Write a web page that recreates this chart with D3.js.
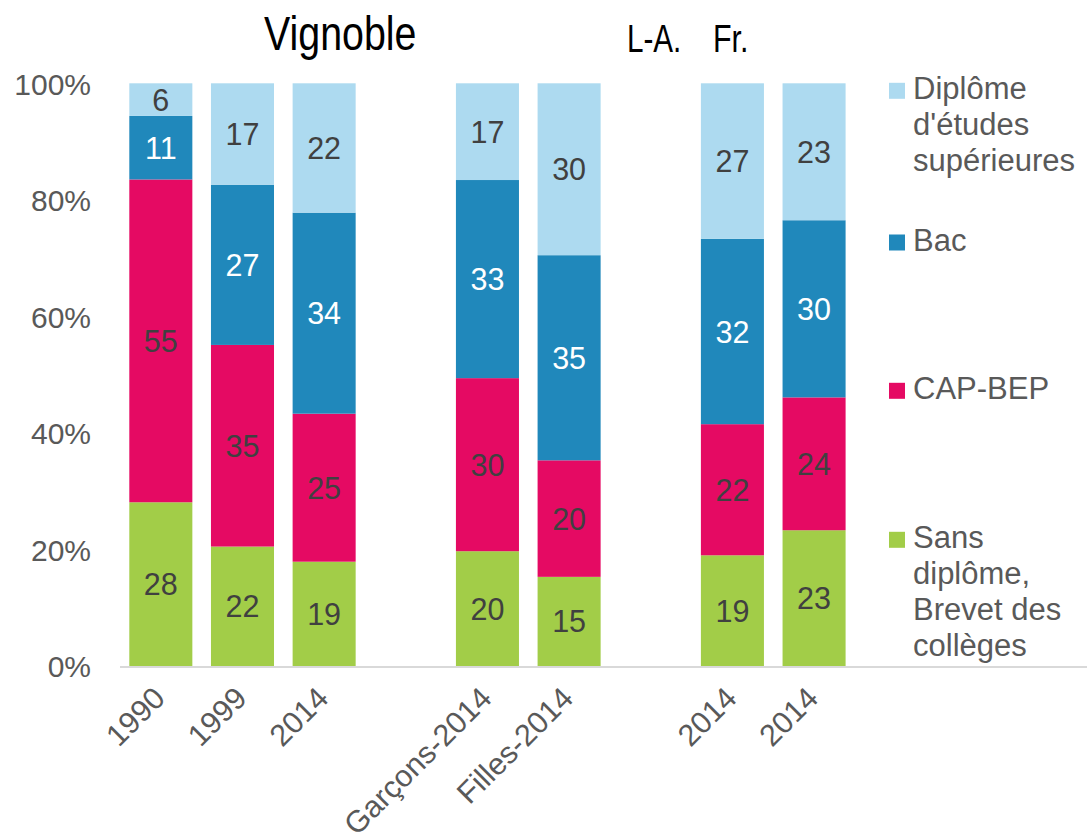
<!DOCTYPE html>
<html>
<head>
<meta charset="utf-8">
<script src="https://cdn.jsdelivr.net/npm/d3@7"></script>
<style>
  html, body { margin: 0; padding: 0; background: #fff; }
  svg { display: block; font-family: "Liberation Sans", Arial, Helvetica, sans-serif; }
</style>
</head>
<body>
<svg id="chart" width="1087" height="834"></svg>
<script>
// ---------- DATA ----------
const categoryKeys = ["1990", "1999", "2014-V", "gap1", "Garcons-2014", "Filles-2014", "gap2", "2014-LA", "2014-FR"];
const tickLabels   = ["1990", "1999", "2014", "", "Garçons-2014", "Filles-2014", "", "2014", "2014"];
const barKeys      = ["1990", "1999", "2014-V", "Garcons-2014", "Filles-2014", "2014-LA", "2014-FR"];

// segment shares (%), bottom to top
const sansDiplome = [28.1, 20.5, 17.9, 19.7, 15.3, 19.0, 23.3];
const capBep      = [55.4, 34.6, 25.4, 29.7, 20.0, 22.5, 22.8];
const bac         = [10.9, 27.5, 34.5, 34.0, 35.2, 31.8, 30.4];
const superieur   = [5.6, 17.4, 22.2, 16.6, 29.5, 26.7, 23.5];

// printed data labels
const sansDiplomeLabels = [28, 22, 19, 20, 15, 19, 23];
const capBepLabels      = [55, 35, 25, 30, 20, 22, 24];
const bacLabels         = [11, 27, 34, 33, 35, 32, 30];
const superieurLabels   = [6, 17, 22, 17, 30, 27, 23];

const seriesNames = ["sansDiplome", "capBep", "bac", "superieur"];
const yTicks = [0, 20, 40, 60, 80, 100];

const legendLines = {
  superieur:   ["Diplôme", "d'études", "supérieures"],
  bac:         ["Bac"],
  capBep:      ["CAP-BEP"],
  sansDiplome: ["Sans", "diplôme,", "Brevet des", "collèges"]
};
const legendOrder = ["superieur", "bac", "capBep", "sansDiplome"];

// ---------- STYLE ----------
const colors = {
  sansDiplome: "#A2CD48",
  capBep:      "#E50A63",
  bac:         "#2088BB",
  superieur:   "#ADDAF0"
};
const labelColors = {
  sansDiplome: "#404040",
  capBep:      "#404040",
  bac:         "#FFFFFF",
  superieur:   "#404040"
};

// ---------- BUILD ----------
const valuesBy = { sansDiplome, capBep, bac, superieur };
const labelsBy = {
  sansDiplome: sansDiplomeLabels, capBep: capBepLabels,
  bac: bacLabels, superieur: superieurLabels
};
const table = barKeys.map((k, i) => {
  const row = { key: k };
  seriesNames.forEach(s => { row[s] = valuesBy[s][i]; });
  return row;
});
const stacked = d3.stack().keys(seriesNames)(table);

const svg = d3.select("#chart");

const x = d3.scaleBand()
  .domain(categoryKeys)
  .range([120, 854.9])
  .paddingInner(0.228)
  .paddingOuter(0.114);

const y = d3.scaleLinear().domain([0, 100]).range([666, 83.3]);

// bars
const layers = svg.append("g").selectAll("g")
  .data(stacked).join("g")
  .attr("fill", d => colors[d.key]);

layers.selectAll("rect")
  .data(d => d.map((p, i) => ({ p, i, key: d.key })))
  .join("rect")
  .attr("x", d => x(barKeys[d.i]))
  .attr("width", x.bandwidth())
  .attr("y", d => y(d.p[1]))
  .attr("height", d => y(d.p[0]) - y(d.p[1]));

// data labels
layers.selectAll("text")
  .data(d => d.map((p, i) => ({ p, i, key: d.key })))
  .join("text")
  .attr("x", d => x(barKeys[d.i]) + x.bandwidth() / 2)
  .attr("y", d => (y(d.p[0]) + y(d.p[1])) / 2)
  .attr("dy", "0.36em")
  .attr("text-anchor", "middle")
  .attr("font-size", 30.5)
  .attr("fill", d => labelColors[d.key])
  .text(d => labelsBy[d.key][d.i]);

// y axis (labels only)
const yAxis = d3.axisLeft(y).tickValues(yTicks).tickFormat(d => d + "%").tickSize(0).tickPadding(0);
const gy = svg.append("g").attr("transform", "translate(91,0)").call(yAxis);
gy.select(".domain").remove();
gy.selectAll("text")
  .attr("font-size", 30)
  .attr("font-family", "Liberation Sans, Arial, sans-serif")
  .attr("fill", "#595959")
  .attr("dy", "0.36em");

// x axis
const xAxis = d3.axisBottom(x).tickSize(0).tickFormat((d, i) => tickLabels[i]);
const gx = svg.append("g").attr("transform", "translate(0,666)").call(xAxis);
gx.select(".domain").remove();
gx.selectAll("text")
  .attr("font-size", 30.5)
  .attr("font-family", "Liberation Sans, Arial, sans-serif")
  .attr("fill", "#595959")
  .attr("text-anchor", "end")
  .attr("dy", null)
  .attr("y", 0)
  .attr("transform", "translate(6,34) rotate(-45)");

// axis baseline
svg.append("line")
  .attr("x1", x.range()[0]).attr("x2", 1087)
  .attr("y1", y(0) + 1).attr("y2", y(0) + 1)
  .attr("stroke", "#D9D9D9").attr("stroke-width", 2);

// titles
const titleG = svg.append("g").attr("fill", "#000");
titleG.append("text")
  .attr("transform", "translate(264,50) scale(0.82,1)")
  .attr("font-size", 48)
  .text("Vignoble");
titleG.append("text")
  .attr("transform", "translate(627,52) scale(0.78,1)")
  .attr("font-size", 38)
  .text("L-A.");
titleG.append("text")
  .attr("transform", "translate(713,52) scale(0.8,1)")
  .attr("font-size", 38)
  .text("Fr.");

// legend
const legendBaselines = [99.3, 251, 399.3, 548.3];
const legendLineHeight = 36;
const lg = svg.append("g");
legendOrder.forEach((key, i) => {
  const base = legendBaselines[i];
  lg.append("rect")
    .attr("x", 889).attr("y", base - 16.5)
    .attr("width", 16).attr("height", 16)
    .attr("fill", colors[key]);
  const t = lg.append("text")
    .attr("x", 913).attr("y", base)
    .attr("font-size", 31)
    .attr("fill", "#595959");
  legendLines[key].forEach((line, j) => {
    t.append("tspan")
      .attr("x", 913)
      .attr("y", base + j * legendLineHeight)
      .text(line);
  });
});
</script>
</body>
</html>
